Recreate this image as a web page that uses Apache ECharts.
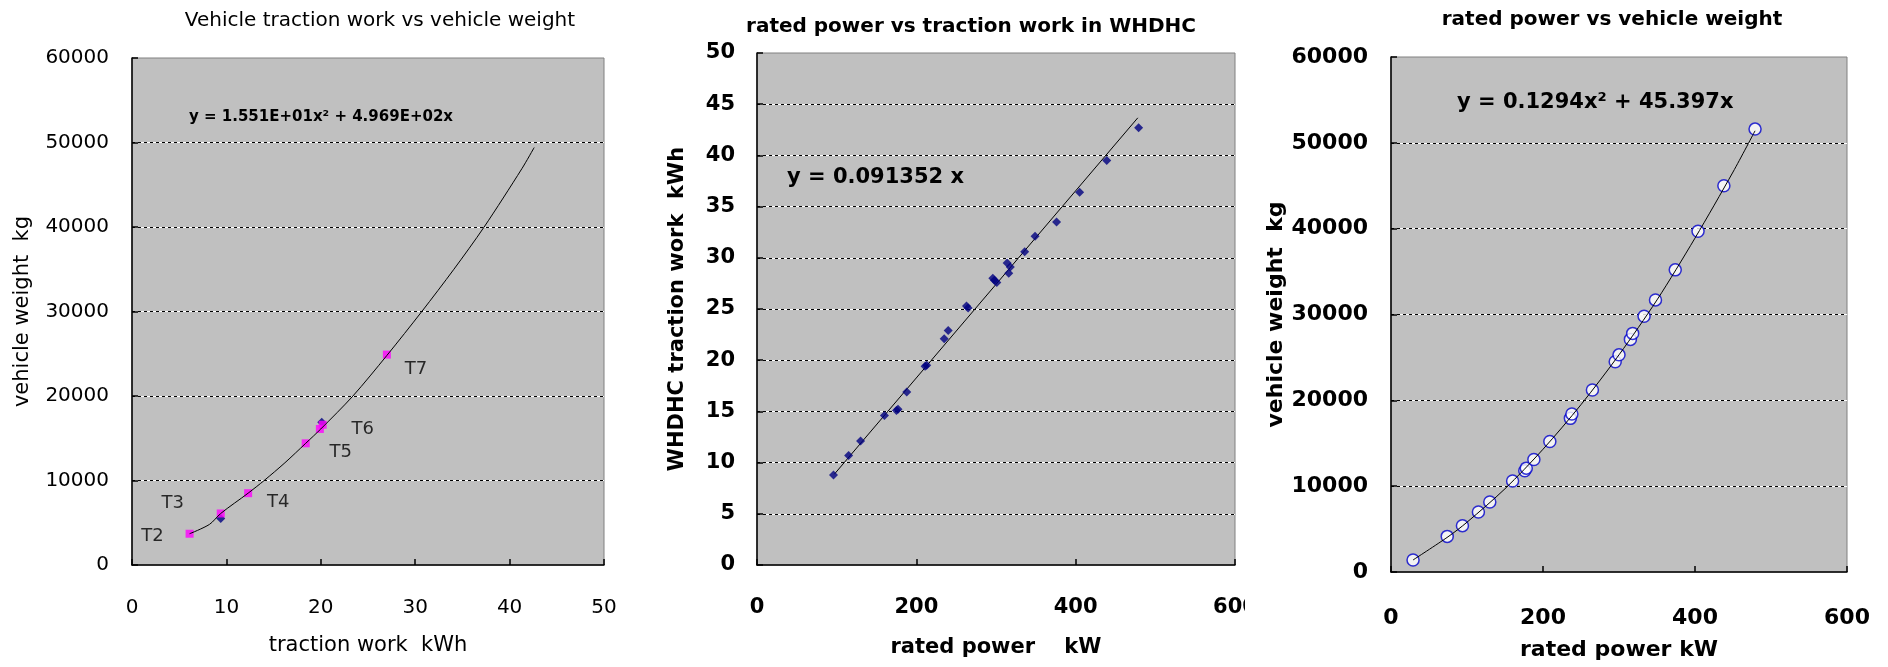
<!DOCTYPE html>
<html><head><meta charset="utf-8">
<script src="https://cdn.jsdelivr.net/npm/echarts@6/dist/echarts.min.js"></script>
<style>html,body{margin:0;padding:0;background:#fff}#c{width:1888px;height:667px}</style>
</head><body><div id="c"></div>
<script>
// ---------- Chart 1: traction work vs vehicle weight ----------
const c1Work   = [6.1, 9.4, 12.3, 18.4, 19.9, 20.2, 27.0];
const c1Weight = [3700, 6100, 8500, 14400, 16100, 16600, 24900];
const c1Names  = ['T2', 'T3', 'T4', 'T5', '', 'T6', 'T7'];
const c1BlueWork   = [9.4, 20.1];
const c1BlueWeight = [5500, 16900];
const c1TrendWork   = [6.1, 8.2, 9.4, 12.3, 14, 16.2, 18.4, 20, 23.4, 27, 30.7, 34.1, 37.3, 41.3, 42.6];
const c1TrendWeight = [3700, 4800, 6100, 8500, 10000, 12100, 14400, 16100, 20000, 24800, 30000, 35000, 40000, 46900, 49400];
const c1XTicks = [0, 50, 10];
const c1YTicks = [0, 60000, 10000];

// ---------- Chart 2: rated power vs WHDHC traction work ----------
const c2Power = [96, 115, 130, 160, 175, 177, 188, 211, 213, 235, 240, 263, 265, 296, 298, 301, 314, 316, 318, 336, 349, 376, 405, 439, 479];
const c2Work  = [8.8, 10.7, 12.1, 14.6, 15.1, 15.2, 16.9, 19.4, 19.5, 22.1, 22.9, 25.3, 25.1, 28.0, 27.8, 27.6, 29.5, 28.5, 29.1, 30.6, 32.1, 33.5, 36.4, 39.5, 42.7];
const c2TrendPower = [97, 478];
const c2TrendWork  = [8.86, 43.67];
const c2XTicks = [0, 600, 200];
const c2YTicks = [0, 50, 5];

// ---------- Chart 3: rated power vs vehicle weight ----------
const c3Power  = [29, 74, 94, 115, 130, 160, 176, 178, 188, 209, 236, 238, 265, 295, 300, 315, 318, 333, 348, 374, 404, 438, 479];
const c3Weight = [1400, 4150, 5400, 7000, 8150, 10600, 11800, 12100, 13100, 15200, 17900, 18400, 21200, 24500, 25300, 27100, 27800, 29800, 31700, 35200, 39700, 45000, 51600];
const c3TrendPower  = [29, 75, 100, 150, 200, 250, 300, 350, 400, 450, 479];
const c3TrendWeight = [1400, 4100, 5800, 9700, 14300, 19500, 25300, 31700, 38900, 46600, 51400];
const c3XTicks = [0, 600, 200];
const c3YTicks = [0, 60000, 10000];

const zip = (a, b) => a.map((v, i) => [v, b[i]]);
const F = 'DejaVu Sans';

function xAx(gi, t, name, o) {
  return {
    type: 'value', gridIndex: gi, min: t[0], max: t[1], interval: t[2],
    name: name, nameLocation: 'middle', nameGap: o.nameGap,
    nameTextStyle: { fontFamily: F, fontSize: o.nameSize, fontWeight: o.weight, color: '#000' },
    axisLine: { show: true, onZero: false, lineStyle: { color: '#000', width: 1.5 } },
    axisTick: { show: true, inside: true, length: 6, lineStyle: { color: '#000', width: 1.5 } },
    axisLabel: { margin: o.margin, fontFamily: F, fontSize: o.size, fontWeight: o.weight, color: '#000', formatter: v => String(v) },
    splitLine: { show: false }, z: 3
  };
}
function yAx(gi, t, name, o) {
  return {
    type: 'value', gridIndex: gi, min: t[0], max: t[1], interval: t[2], position: 'left',
    name: name, nameLocation: 'middle', nameGap: o.nameGap,
    nameTextStyle: { fontFamily: F, fontSize: o.nameSize, fontWeight: o.weight, color: '#000' },
    axisLine: { show: true, onZero: false, lineStyle: { color: '#000', width: 1.5 } },
    axisTick: { show: true, inside: true, length: 6, lineStyle: { color: '#000', width: 1.5 } },
    axisLabel: { margin: o.margin, fontFamily: F, fontSize: o.size, fontWeight: o.weight, color: '#000', formatter: v => String(v) },
    splitLine: { show: true, showMinLine: false, showMaxLine: false, lineStyle: { color: '#000', type: [3, 3], width: 1 } },
    z: 3
  };
}
function yHelper(gi, t) {
  return {
    type: 'value', gridIndex: gi, min: t[0], max: t[1], interval: t[2], position: 'right',
    axisLine: { show: false }, axisTick: { show: false }, axisLabel: { show: false },
    splitLine: { show: true, showMinLine: false, showMaxLine: false, lineStyle: { color: '#fff', width: 1 } },
    z: 2
  };
}
const gridBase = { show: true, backgroundColor: '#c0c0c0', borderColor: '#808080', borderWidth: 1, containLabel: false };

const labelOffsets = [[-37, 3], [-48, -10], [30, 9], [35, 9], [0, 0], [40, 5], [29, 15]];

const option = {
  animation: false,
  backgroundColor: '#fff',
  grid: [
    Object.assign({ left: 132, top: 58, width: 472, height: 507 }, gridBase),
    Object.assign({ left: 757, top: 53, width: 478, height: 512 }, gridBase),
    Object.assign({ left: 1391, top: 57, width: 456, height: 515 }, gridBase)
  ],
  xAxis: [
    xAx(0, c1XTicks, 'traction work  kWh', { nameGap: 70, nameSize: 21, weight: 'normal', size: 20, margin: 33 }),
    xAx(1, c2XTicks, 'rated power    kW', { nameGap: 72, nameSize: 21, weight: 'bold', size: 21, margin: 32 }),
    xAx(2, c3XTicks, 'rated power kW', { nameGap: 67, nameSize: 22, weight: 'bold', size: 22, margin: 35 })
  ],
  yAxis: [
    yAx(0, c1YTicks, 'vehicle weight  kg', { nameGap: 99, nameSize: 21, weight: 'normal', size: 20, margin: 23 }),
    yHelper(0, c1YTicks),
    yAx(1, c2YTicks, 'WHDHC traction work  kWh', { nameGap: 69, nameSize: 21, weight: 'bold', size: 21, margin: 22 }),
    yHelper(1, c2YTicks),
    yAx(2, c3YTicks, 'vehicle weight  kg', { nameGap: 98, nameSize: 22, weight: 'bold', size: 22, margin: 23 }),
    yHelper(2, c3YTicks)
  ],
  series: [
    { type: 'scatter', xAxisIndex: 0, yAxisIndex: 0, symbol: 'diamond', symbolSize: 9,
      itemStyle: { color: '#000080' }, data: zip(c1BlueWork, c1BlueWeight), z: 4 },
    { type: 'scatter', xAxisIndex: 0, yAxisIndex: 0, symbol: 'rect', symbolSize: 8,
      itemStyle: { color: '#ff00ff' }, z: 5,
      data: c1Work.map((x, i) => ({
        value: [x, c1Weight[i]], name: c1Names[i],
        label: { show: c1Names[i] !== '', position: 'inside', offset: labelOffsets[i], formatter: '{b}',
                 fontFamily: F, fontSize: 18, color: '#000' }
      })) },
    { type: 'line', xAxisIndex: 0, yAxisIndex: 0, smooth: 0.3, showSymbol: false, symbol: 'none',
      lineStyle: { color: '#000', width: 1 }, data: zip(c1TrendWork, c1TrendWeight), z: 6 },

    { type: 'line', xAxisIndex: 1, yAxisIndex: 2, showSymbol: false, symbol: 'none',
      lineStyle: { color: '#000', width: 1 }, data: zip(c2TrendPower, c2TrendWork), z: 4 },
    { type: 'scatter', xAxisIndex: 1, yAxisIndex: 2, symbol: 'diamond', symbolSize: 9,
      itemStyle: { color: '#000080' }, data: zip(c2Power, c2Work), z: 5 },

    { type: 'scatter', xAxisIndex: 2, yAxisIndex: 4, symbol: 'circle', symbolSize: 12,
      itemStyle: { color: '#fff', borderColor: '#0000cc', borderWidth: 1.5 }, data: zip(c3Power, c3Weight), z: 4 },
    { type: 'line', xAxisIndex: 2, yAxisIndex: 4, smooth: 0.3, showSymbol: false, symbol: 'none',
      lineStyle: { color: '#000', width: 1 }, data: zip(c3TrendPower, c3TrendWeight), z: 5 }
  ],
  graphic: [
    { type: 'text', x: 380, y: 21, style: { text: 'Vehicle traction work vs vehicle weight', font: 'normal 20px "DejaVu Sans"', fill: '#000', textAlign: 'center', textVerticalAlign: 'middle' } },
    { type: 'text', x: 971, y: 27, style: { text: 'rated power vs traction work in WHDHC', font: 'bold 20px "DejaVu Sans"', fill: '#000', textAlign: 'center', textVerticalAlign: 'middle' } },
    { type: 'text', x: 1612, y: 20, style: { text: 'rated power vs vehicle weight', font: 'bold 20px "DejaVu Sans"', fill: '#000', textAlign: 'center', textVerticalAlign: 'middle' } },
    { type: 'text', x: 189, y: 117, z: 10, style: { text: 'y = 1.551E+01x² + 4.969E+02x', font: 'bold 15px "DejaVu Sans"', fill: '#000', textAlign: 'left', textVerticalAlign: 'middle' } },
    { type: 'text', x: 787, y: 178, z: 10, style: { text: 'y = 0.091352 x', font: 'bold 21px "DejaVu Sans"', fill: '#000', textAlign: 'left', textVerticalAlign: 'middle' } },
    { type: 'text', x: 1457, y: 103, z: 10, style: { text: 'y = 0.1294x² + 45.397x', font: 'bold 21px "DejaVu Sans"', fill: '#000', textAlign: 'left', textVerticalAlign: 'middle' } },
    { type: 'rect', x: 1245, y: 588, z: 100, shape: { width: 30, height: 42 }, style: { fill: '#fff' } }
  ]
};
echarts.init(document.getElementById('c'), null, { renderer: 'canvas' }).setOption(option);
</script></body></html>
